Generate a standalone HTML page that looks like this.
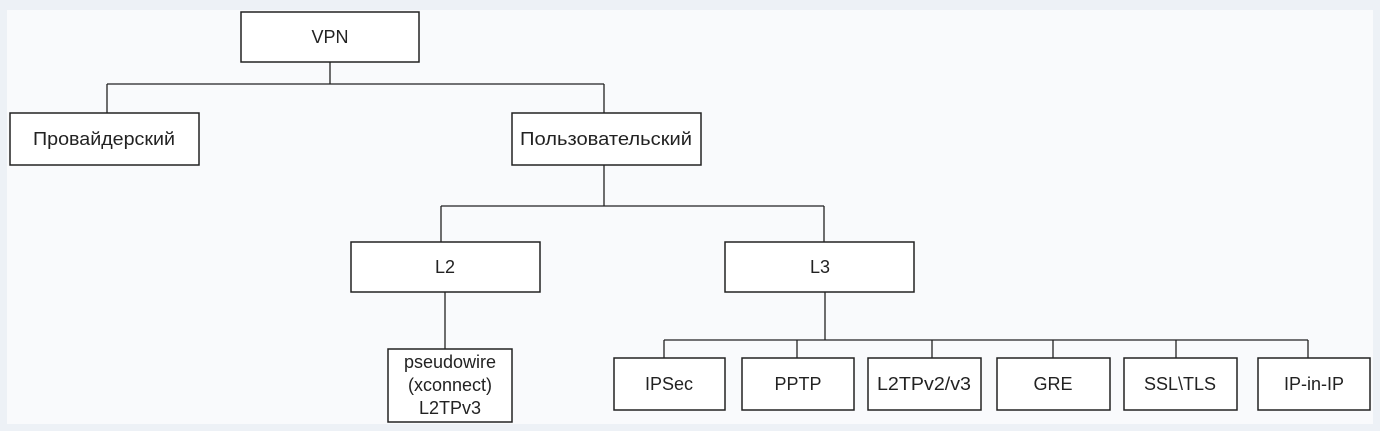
<!DOCTYPE html>
<html><head><meta charset="utf-8"><style>
html,body{margin:0;padding:0;background:#edf1f6;}
svg{display:block}
text{font-family:"Liberation Sans",sans-serif;font-size:18px;fill:#222;text-anchor:middle;dominant-baseline:central}
</style></head><body>
<svg width="1380" height="431" viewBox="0 0 1380 431" xmlns="http://www.w3.org/2000/svg">
<rect x="0" y="0" width="1380" height="431" fill="#edf1f6"/>
<rect x="7" y="10" width="1366" height="414" fill="#f9fafc"/>
<g stroke="#222" stroke-width="1.3" fill="none">
<path d="M330 62V84M107 84H604M107 84V113M604 84V113"/>
<path d="M604 165V206M441 206H824M441 206V242M824 206V242"/>
<path d="M445 292V349"/>
<path d="M825 292V340M664 340H1308M664 340V358M797 340V358M932 340V358M1053 340V358M1176 340V358M1308 340V358"/>
</g>
<g stroke="#222" stroke-width="1.5" fill="#fff">
<rect x="241" y="12" width="178" height="50"/>
<rect x="10" y="113" width="189" height="52"/>
<rect x="512" y="113" width="189" height="52"/>
<rect x="351" y="242" width="189" height="50"/>
<rect x="725" y="242" width="189" height="50"/>
<rect x="388" y="349" width="124" height="73"/>
<rect x="614" y="358" width="111" height="52"/>
<rect x="742" y="358" width="112" height="52"/>
<rect x="868" y="358" width="113" height="52"/>
<rect x="997" y="358" width="113" height="52"/>
<rect x="1124" y="358" width="113" height="52"/>
<rect x="1258" y="358" width="112" height="52"/>
</g>
<text x="330" y="37">VPN</text>
<text x="104" y="139" textLength="142" lengthAdjust="spacingAndGlyphs">Провайдерский</text>
<text x="606" y="139" textLength="172" lengthAdjust="spacingAndGlyphs">Пользовательский</text>
<text x="445" y="267">L2</text>
<text x="820" y="267">L3</text>
<text x="450" y="362">pseudowire</text>
<text x="450" y="385">(xconnect)</text>
<text x="450" y="408">L2TPv3</text>
<text x="669" y="384">IPSec</text>
<text x="798" y="384">PPTP</text>
<text x="924" y="384" textLength="94" lengthAdjust="spacingAndGlyphs">L2TPv2/v3</text>
<text x="1053" y="384">GRE</text>
<text x="1180" y="384">SSL\TLS</text>
<text x="1314" y="384">IP-in-IP</text>
</svg>
</body></html>
